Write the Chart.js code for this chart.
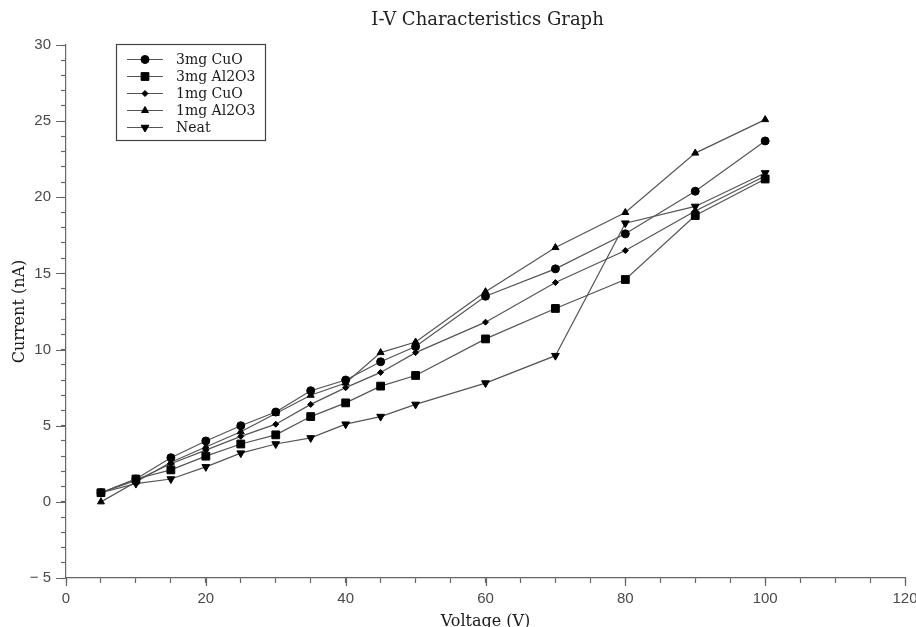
<!DOCTYPE html>
<html>
<head>
<meta charset="utf-8">
<script src="https://cdn.jsdelivr.net/npm/chart.js@4.4.1/dist/chart.umd.min.js"></script>
<style>
  html, body { margin: 0; padding: 0; background: #fff; }
  #wrap { width: 916px; height: 627px; }
</style>
</head>
<body>
<div id="wrap"><canvas id="iv"></canvas></div>
<script>
// voltage steps (V)
const voltages = [5, 10, 15, 20, 25, 30, 35, 40, 45, 50, 60, 70, 80, 90, 100];

// current readings (nA)
const cuo3 = [0.6, 1.5, 2.9, 4.0, 5.0, 5.9, 7.3, 8.0, 9.2, 10.2, 13.5, 15.3, 17.6, 20.4, 23.7];
const al2o3_3 = [0.6, 1.5, 2.1, 3.0, 3.8, 4.4, 5.6, 6.5, 7.6, 8.3, 10.7, 12.7, 14.6, 18.8, 21.2];
const cuo1 = [0.6, 1.4, 2.5, 3.4, 4.3, 5.1, 6.4, 7.5, 8.5, 9.8, 11.8, 14.4, 16.5, 19.1, 21.4];
const al2o3_1 = [0.0, 1.3, 2.6, 3.6, 4.6, 5.8, 7.0, 7.8, 9.8, 10.5, 13.8, 16.7, 19.0, 22.9, 25.1];
const neat = [0.6, 1.2, 1.5, 2.3, 3.2, 3.8, 4.2, 5.1, 5.6, 6.4, 7.8, 9.6, 18.3, 19.4, 21.6];

const seriesNames = ["3mg CuO", "3mg Al2O3", "1mg CuO", "1mg Al2O3", "Neat"];
const chartTitle = "I-V Characteristics Graph";

const X_MIN = 0, X_MAX = 120, X_MAJOR = 20, X_MINOR = 5;
const Y_MIN = -5, Y_MAX = 30, Y_MAJOR = 5, Y_MINOR = 1;

const LINE = "#555";
const AXIS = "#666";
const SERIF = "'DejaVu Serif', 'Liberation Serif', serif";
const SANS = "'Liberation Sans', Arial, sans-serif";

const markers = [
  { pointStyle: "circle", radius: 4, rotation: 0 },
  { pointStyle: "rect", radius: 5.5, rotation: 0 },
  { pointStyle: "rectRot", radius: 3, rotation: 0 },
  { pointStyle: "triangle", radius: 4, rotation: 0 },
  { pointStyle: "triangle", radius: 4.5, rotation: 180 },
];

function pairs(ys) {
  return voltages.map((v, i) => ({ x: v, y: ys[i] }));
}

const datasets = [cuo3, al2o3_3, cuo1, al2o3_1, neat].map((ys, i) => ({
  label: seriesNames[i],
  data: pairs(ys),
  borderColor: LINE,
  borderWidth: 1.2,
  backgroundColor: "#000",
  pointBorderColor: "#000",
  pointBackgroundColor: "#000",
  pointBorderWidth: 1,
  pointStyle: markers[i].pointStyle,
  pointRadius: markers[i].radius,
  pointRotation: markers[i].rotation,
  tension: 0,
}));

// title centred over the plot area rather than the canvas
const plotTitle = {
  id: "plotTitle",
  afterDraw(chart) {
    const { ctx, chartArea } = chart;
    ctx.save();
    ctx.font = "18px " + SERIF;
    ctx.fillStyle = "#222";
    ctx.textAlign = "center";
    ctx.textBaseline = "middle";
    ctx.fillText(chartTitle, (chartArea.left + chartArea.right) / 2 + 2, 20);
    ctx.restore();
  },
};

// longer tick marks at labelled values
const majorTicks = {
  id: "majorTicks",
  afterDraw(chart) {
    const { ctx } = chart;
    const xs = chart.scales.x, ys = chart.scales.y;
    ctx.save();
    ctx.strokeStyle = AXIS;
    ctx.lineWidth = 1.2;
    ctx.beginPath();
    for (let v = X_MIN; v <= X_MAX; v += X_MAJOR) {
      const px = Math.round(xs.getPixelForValue(v)) + 0.5;
      ctx.moveTo(px, xs.top);
      ctx.lineTo(px, xs.top + 8);
    }
    for (let v = Y_MIN; v <= Y_MAX; v += Y_MAJOR) {
      const py = Math.round(ys.getPixelForValue(v)) + 0.5;
      ctx.moveTo(ys.right, py);
      ctx.lineTo(ys.right - 10, py);
    }
    ctx.stroke();
    ctx.restore();
  },
};

// boxed legend inside the plot, line + marker per entry
const boxLegend = {
  id: "boxLegend",
  afterDatasetsDraw(chart) {
    const { ctx } = chart;
    const bx = 116.5, by = 44.5, bw = 149, bh = 96;
    ctx.save();
    ctx.fillStyle = "#fff";
    ctx.fillRect(bx, by, bw, bh);
    ctx.strokeStyle = "#444";
    ctx.lineWidth = 1.2;
    ctx.strokeRect(bx, by, bw, bh);
    ctx.font = "14px " + SERIF;
    ctx.textBaseline = "middle";
    chart.data.datasets.forEach((ds, i) => {
      const y = 59.5 + i * 17;
      ctx.strokeStyle = LINE;
      ctx.lineWidth = 1.2;
      ctx.beginPath();
      ctx.moveTo(127, y);
      ctx.lineTo(163, y);
      ctx.stroke();
      ctx.fillStyle = "#000";
      ctx.strokeStyle = "#000";
      ctx.lineWidth = 1;
      Chart.helpers.drawPoint(ctx, {
        pointStyle: ds.pointStyle,
        radius: ds.pointRadius,
        rotation: ds.pointRotation,
        borderWidth: 1,
      }, 145, y);
      ctx.fillStyle = "#1a1a1a";
      ctx.fillText(ds.label, 176, y + 1);
    });
    ctx.restore();
  },
};

new Chart(document.getElementById("iv"), {
  type: "line",
  data: { datasets },
  options: {
    responsive: true,
    maintainAspectRatio: false,
    animation: false,
    layout: { padding: { top: 45, right: 11, left: 0, bottom: 0 } },
    plugins: {
      legend: { display: false },
      tooltip: { enabled: false },
      title: { display: false },
    },
    scales: {
      x: {
        type: "linear",
        min: X_MIN,
        max: X_MAX,
        afterFit(scale) {
          scale.height = 49;
          scale.paddingRight = 0;
          scale.paddingLeft = 0;
        },
        border: { display: true, color: AXIS, width: 1.2 },
        grid: { drawOnChartArea: false, drawTicks: true, tickLength: 5, tickColor: AXIS, tickWidth: 1.2 },
        ticks: {
          stepSize: X_MINOR,
          autoSkip: false,
          maxRotation: 0,
          padding: 7,
          color: "#4a4a4a",
          font: { family: SANS, size: 15 },
          callback: (v) => (v % X_MAJOR === 0 ? String(v) : ""),
        },
        title: {
          display: true,
          text: "Voltage (V)",
          color: "#1a1a1a",
          font: { family: SERIF, size: 16 },
          padding: { top: 0, bottom: -4 },
        },
      },
      y: {
        type: "linear",
        min: Y_MIN,
        max: Y_MAX,
        afterFit(scale) {
          scale.width = 66;
        },
        border: { display: true, color: AXIS, width: 1.2 },
        grid: { drawOnChartArea: false, drawTicks: true, tickLength: 5, tickColor: AXIS, tickWidth: 1.2 },
        ticks: {
          stepSize: Y_MINOR,
          autoSkip: false,
          padding: 10,
          color: "#4a4a4a",
          font: { family: SANS, size: 15 },
          callback: (v) => (v % Y_MAJOR === 0 ? (v < 0 ? "\u2212 " + Math.abs(v) : String(v)) : ""),
        },
        title: {
          display: true,
          text: "Current (nA)",
          color: "#1a1a1a",
          font: { family: SERIF, size: 16 },
          padding: { top: 10, bottom: 0 },
        },
      },
    },
  },
  plugins: [plotTitle, majorTicks, boxLegend],
});
</script>
</body>
</html>
